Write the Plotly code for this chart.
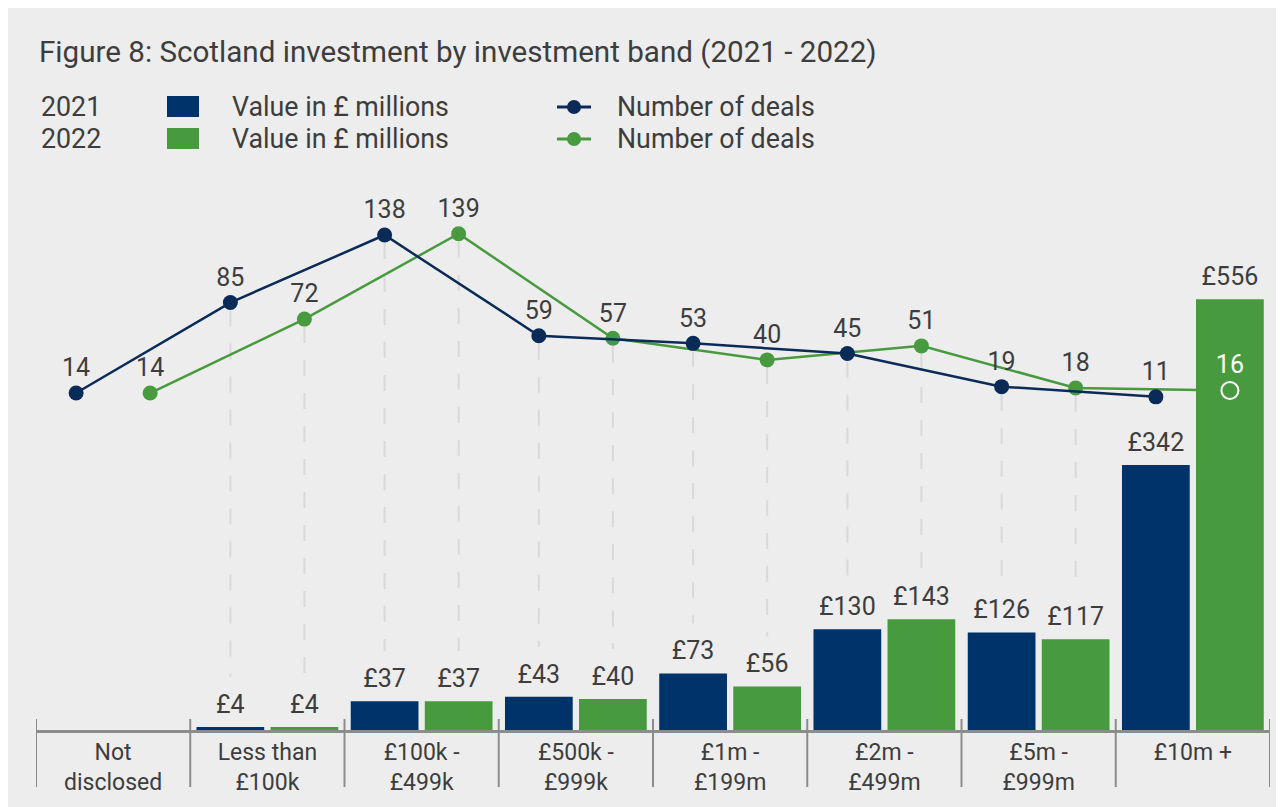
import plotly.graph_objects as go

# --- data ---
categories = ["Not<br>disclosed", "Less than<br>£100k", "£100k -<br>£499k", "£500k -<br>£999k",
              "£1m -<br>£199m", "£2m -<br>£499m", "£5m -<br>£999m", "£10m +"]
value_2021 = [None, 4, 37, 43, 73, 130, 126, 342]
value_2022 = [None, 4, 37, 40, 56, 143, 117, 556]
deals_2021 = [14, 85, 138, 59, 53, 45, 19, 11]
deals_2022 = [14, 72, 139, 57, 40, 51, 18, 16]
years = ["2021", "2022"]

NAVY_BAR = "#00336a"
NAVY_LINE = "#0a2b57"
GREEN = "#479a3d"
TEXT = "#3d3d3d"
BG = "#ededed"
AXIS = "#8c8c8c"
FONT = "Roboto"

# page offset of the figure (body margin) and plot area in page pixels
SH = 8
L, R, T, B = 36, 1270, 180, 730
W, H = 1284, 807
BAR_MAX = 710
LINE_MIN, LINE_MAX = -250.5, 181.2
BARGAP = 0.04
OFF = (1 - BARGAP) / 4          # centre of each bar inside its group


def px(xp):
    return (xp - L) / (R - L)


def py(yp):
    return (B - yp) / (B - T)


idx = list(range(len(categories)))
x21 = [i - OFF for i in idx]
x22 = [i + OFF for i in idx]

fig = go.Figure()

# dashed guides from each point down to its bar label
unit = (LINE_MAX - LINE_MIN) / (B - T)
for xs, deals, vals in [(x21, deals_2021, value_2021), (x22, deals_2022, value_2022)]:
    for xv, d, v in zip(xs, deals, vals):
        if v is None:
            continue
        end = LINE_MIN + v / BAR_MAX * (LINE_MAX - LINE_MIN) + 50 * unit
        if d - end < 20 * unit:
            continue
        fig.add_trace(go.Scatter(x=[xv, xv], y=[d - 8 * unit, end], mode="lines", yaxis="y",
                                 line=dict(color="#d9d9d9", width=2, dash="16px,17px"),
                                 hoverinfo="skip", showlegend=False))

# number of deals lines (drawn under the bars)
last = len(idx) - 1
fig.add_trace(go.Scatter(x=x22, y=deals_2022, mode="lines", yaxis="y",
                         line=dict(color=GREEN, width=2.5), showlegend=False))
fig.add_trace(go.Scatter(x=x22[:last], y=deals_2022[:last], mode="markers+text", yaxis="y",
                         marker=dict(color=GREEN, size=15),
                         text=[str(d) for d in deals_2022[:last]], textposition="top center",
                         textfont=dict(size=25, color=TEXT, family=FONT),
                         cliponaxis=False, showlegend=False))
fig.add_trace(go.Scatter(x=x21, y=deals_2021, mode="lines+markers+text", yaxis="y",
                         line=dict(color=NAVY_LINE, width=2.5),
                         marker=dict(color=NAVY_LINE, size=15),
                         text=[str(d) for d in deals_2021], textposition="top center",
                         textfont=dict(size=25, color=TEXT, family=FONT),
                         cliponaxis=False, showlegend=False))

# value bars (labels drawn separately so they sit a little higher)
for vals, col, nm in [(value_2021, NAVY_BAR, "2021"), (value_2022, GREEN, "2022")]:
    fig.add_trace(go.Bar(x=idx, y=vals, yaxis="y2", marker=dict(color=col, line_width=0),
                         name=nm, showlegend=False))
for xs, vals in [(x21, value_2021), (x22, value_2022)]:
    fig.add_trace(go.Scatter(x=xs, y=vals, yaxis="y2", mode="markers+text",
                             marker=dict(size=11, color="rgba(0,0,0,0)"),
                             text=["" if v is None else f"£{v}" for v in vals],
                             textposition="top center", cliponaxis=False,
                             textfont=dict(size=25, color=TEXT, family=FONT),
                             hoverinfo="skip", showlegend=False))

# last 2022 point sits inside its bar: white hollow marker on top
fig.add_trace(go.Scatter(x=[x22[last]], y=[deals_2022[last]], mode="markers+text", yaxis="y3",
                         marker=dict(color="rgba(0,0,0,0)", size=17, line=dict(color="white", width=2)),
                         text=[str(deals_2022[last])], textposition="top center",
                         textfont=dict(size=25, color="white", family=FONT),
                         cliponaxis=False, showlegend=False))

# category separators
shapes = []
for i in range(len(categories) + 1):
    shapes.append(dict(type="line", xref="x", yref="paper", x0=i - 0.5, x1=i - 0.5,
                       y0=py(787), y1=py(719), line=dict(color=AXIS, width=2)))

# legend keys
annotations = []
for row, (yr, yp, lc) in enumerate([(years[0], 107, NAVY_LINE), (years[1], 139, GREEN)]):
    bc = NAVY_BAR if row == 0 else GREEN
    for txt, xp in [(yr, 39), ("Value in £ millions", 230), ("Number of deals", 615)]:
        annotations.append(dict(text=txt, xref="paper", yref="paper", x=px(xp), y=py(yp),
                                xanchor="left", yanchor="middle", showarrow=False,
                                font=dict(size=26.8, color=TEXT, family=FONT)))
    shapes.append(dict(type="rect", xref="paper", yref="paper", x0=px(167), x1=px(199),
                       y0=py(yp + 10), y1=py(yp - 11), fillcolor=bc, line_width=0))
    shapes.append(dict(type="line", xref="paper", yref="paper", x0=px(557), x1=px(591),
                       y0=py(yp), y1=py(yp), line=dict(color=lc, width=3)))
    shapes.append(dict(type="circle", xref="paper", yref="paper", x0=px(567), x1=px(581),
                       y0=py(yp + 7), y1=py(yp - 7), fillcolor=lc, line_width=0))

fig.update_layout(
    width=W, height=H,
    margin=dict(l=L - SH, r=W - R + SH, t=T - SH, b=H - B + SH, pad=0),
    paper_bgcolor=BG, plot_bgcolor=BG,
    font=dict(family=FONT, color=TEXT),
    title=dict(text="Figure 8: Scotland investment by investment band (2021 - 2022)",
               xref="container", yref="container", x=(39 - SH) / W, y=1 - (52 - SH) / H,
               xanchor="left", yanchor="middle",
               font=dict(size=29.6, color=TEXT, family=FONT)),
    barmode="group", bargap=BARGAP, bargroupgap=0.085,
    xaxis=dict(range=[-0.5, len(categories) - 0.5], tickvals=idx, ticktext=categories,
               showgrid=False, zeroline=False, showline=True, linecolor=AXIS, linewidth=2.5,
               ticks="", tickfont=dict(size=23, color=TEXT, family=FONT), fixedrange=True),
    yaxis=dict(range=[LINE_MIN, LINE_MAX], visible=False, showgrid=False, zeroline=False),
    yaxis2=dict(range=[0, BAR_MAX], overlaying="y", visible=False, showgrid=False, zeroline=False),
    yaxis3=dict(range=[LINE_MIN, LINE_MAX], overlaying="y", visible=False, showgrid=False, zeroline=False),
    shapes=shapes, annotations=annotations,
    showlegend=False,
)

fig.write_html("out.html")
